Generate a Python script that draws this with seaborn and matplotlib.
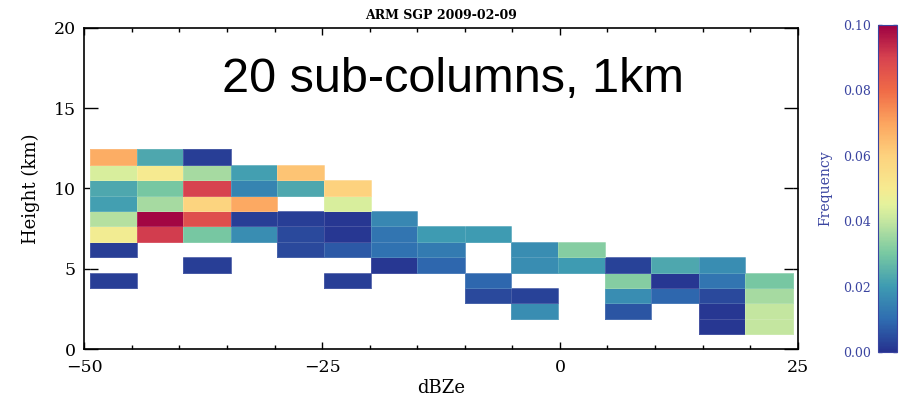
import numpy as np
import pandas as pd
import matplotlib
matplotlib.use("Agg")
import matplotlib.pyplot as plt
from matplotlib.colors import LinearSegmentedColormap
from matplotlib.ticker import MultipleLocator, FormatStrFormatter
import seaborn as sns

# ---------------- data ----------------
title = "ARM SGP 2009-02-09"
annotation = "20 sub-columns, 1km"
x_label = "dBZe"
y_label = "Height (km)"
cbar_label = "Frequency"

# reflectivity bin edges (dBZe) and height bin edges (km)
dbz_edges = [-49.4, -44.5, -39.6, -34.6, -29.7, -24.8, -19.9, -15.0,
             -10.0, -5.1, -0.2, 4.7, 9.6, 14.6, 19.5, 24.5]
height_edges_km = [0.93, 1.89, 2.85, 3.81, 4.77, 5.73, 6.68, 7.64,
                   8.60, 9.56, 10.52, 11.48, 12.44]

# frequency table, rows listed from the top height bin down to the lowest
freq_top_to_bottom = [
    [0.068, 0.023, 0.002, 0, 0, 0, 0, 0, 0, 0, 0, 0, 0, 0, 0],
    [0.043, 0.050, 0.036, 0.021, 0.063, 0, 0, 0, 0, 0, 0, 0, 0, 0, 0],
    [0.023, 0.030, 0.090, 0.015, 0.023, 0.060, 0, 0, 0, 0, 0, 0, 0, 0, 0],
    [0.021, 0.036, 0.059, 0.069, 0, 0.043, 0, 0, 0, 0, 0, 0, 0, 0, 0],
    [0.038, 0.099, 0.087, 0.002, 0.002, 0.001, 0.016, 0, 0, 0, 0, 0, 0, 0, 0],
    [0.049, 0.091, 0.030, 0.017, 0.004, 0.001, 0.012, 0.020, 0.020, 0, 0, 0, 0, 0, 0],
    [0.002, 0, 0, 0, 0.004, 0.007, 0.011, 0.013, 0, 0.017, 0.032, 0, 0, 0, 0],
    [0, 0, 0.002, 0, 0, 0, 0.001, 0.009, 0, 0.017, 0.020, 0.003, 0.023, 0.017, 0],
    [0.002, 0, 0, 0, 0, 0.002, 0, 0, 0.009, 0, 0, 0.032, 0.001, 0.012, 0.030],
    [0, 0, 0, 0, 0, 0, 0, 0, 0.004, 0.003, 0, 0.017, 0.009, 0.004, 0.036],
    [0, 0, 0, 0, 0, 0, 0, 0, 0, 0.017, 0, 0.006, 0, 0.001, 0.040],
    [0, 0, 0, 0, 0, 0, 0, 0, 0, 0, 0, 0, 0, 0.001, 0.040],
]

x_ticks = [-50, -25, 0, 25]
y_ticks = [0, 5, 10, 15, 20]
cbar_ticks = [0.00, 0.02, 0.04, 0.06, 0.08, 0.10]
freq_min, freq_max = 0.0, 0.10

cmap_colors = ["#26328f", "#2f6db1", "#3e9bb2", "#78c8a2", "#c4e6a0",
               "#e4f29c", "#f6ea90", "#fdd27e", "#fca55f", "#f06b47",
               "#d8434f", "#9e0142"]
cmap_positions = [0.0, 0.1, 0.2, 0.3, 0.4, 0.45, 0.5, 0.6, 0.7, 0.8, 0.9, 1.0]

# ---------------- build long table ----------------
x_centers = [(a + b) / 2 for a, b in zip(dbz_edges[:-1], dbz_edges[1:])]
y_centers = [(a + b) / 2 for a, b in zip(height_edges_km[:-1], height_edges_km[1:])]
records = []
n_rows = len(freq_top_to_bottom)
for i, row in enumerate(freq_top_to_bottom):
    yc = y_centers[n_rows - 1 - i]
    for j, v in enumerate(row):
        if v > 0:
            records.append((x_centers[j], yc, v))
df = pd.DataFrame(records, columns=[x_label, y_label, cbar_label])

# ---------------- style ----------------
sns.set_style("ticks")
plt.rcParams["font.family"] = ["DejaVu Serif"]
plt.rcParams["axes.unicode_minus"] = True
for key in ("text.color", "axes.labelcolor", "xtick.color", "ytick.color",
            "axes.edgecolor"):
    plt.rcParams[key] = "black"
cbar_color = "#3a44a0"

cmap = LinearSegmentedColormap.from_list(
    "idl_spectral", list(zip(cmap_positions, cmap_colors)))

fig = plt.figure(figsize=(9.05, 3.99), dpi=100)
ax = fig.add_axes([0.0932, 0.1246, 0.7882, 0.806])
cax = fig.add_axes([0.9702, 0.1178, 0.0210, 0.8195])

sns.histplot(data=df, x=x_label, y=y_label, weights=cbar_label,
             bins=[dbz_edges, height_edges_km], cmap=cmap,
             vmin=freq_min, vmax=freq_max, cbar=True, cbar_ax=cax, ax=ax,
             edgecolor=(1, 1, 1, 0.15), linewidth=0.5)

ax.set_xlim(-50, 25)
ax.set_ylim(0, 20)
ax.set_xticks(x_ticks)
ax.set_yticks(y_ticks)
ax.xaxis.set_minor_locator(MultipleLocator(5))
ax.tick_params(axis="x", which="major", direction="in", length=5, width=1,
               top=True, bottom=True, labelsize=12.5, pad=7, colors="black")
ax.tick_params(axis="x", which="minor", direction="in", length=3, width=1,
               top=True, bottom=True, colors="black")
ax.tick_params(axis="y", which="major", direction="in", length=10, width=1,
               left=True, right=True, labelsize=12.5, pad=6, colors="black")
for s in ax.spines.values():
    s.set_color("black")
    s.set_linewidth(1.2)
ax.set_xlabel(x_label, fontsize=13, labelpad=2, color="black")
ax.set_ylabel(y_label, fontsize=13, labelpad=10, color="black")
ax.set_title(title, fontsize=9, fontweight="bold", pad=6, color="black")
ax.grid(False)

ax.text(0.193, 0.80, annotation, transform=ax.transAxes, fontsize=35,
        family=["Liberation Sans", "DejaVu Sans"], ha="left", va="baseline",
        color="black")

# colorbar styling
cax.set_ylim(freq_min, freq_max)
cax.yaxis.set_ticks(cbar_ticks)
cax.yaxis.set_major_formatter(FormatStrFormatter("%.2f"))
cax.yaxis.set_minor_locator(MultipleLocator(0.01))
cax.tick_params(which="both", direction="in", left=True, right=True,
                labelleft=True, labelright=False, length=3, width=1,
                color=cbar_color, labelcolor=cbar_color, labelsize=9, pad=5)
cax.yaxis.set_label_position("left")
cax.set_ylabel(cbar_label, color=cbar_color, fontsize=10, labelpad=8)
for s in cax.spines.values():
    s.set_color(cbar_color)
mesh = ax.collections[0]
if getattr(mesh, "colorbar", None) is not None:
    mesh.colorbar.outline.set_edgecolor(cbar_color)

fig.savefig("out.png", dpi=100)
